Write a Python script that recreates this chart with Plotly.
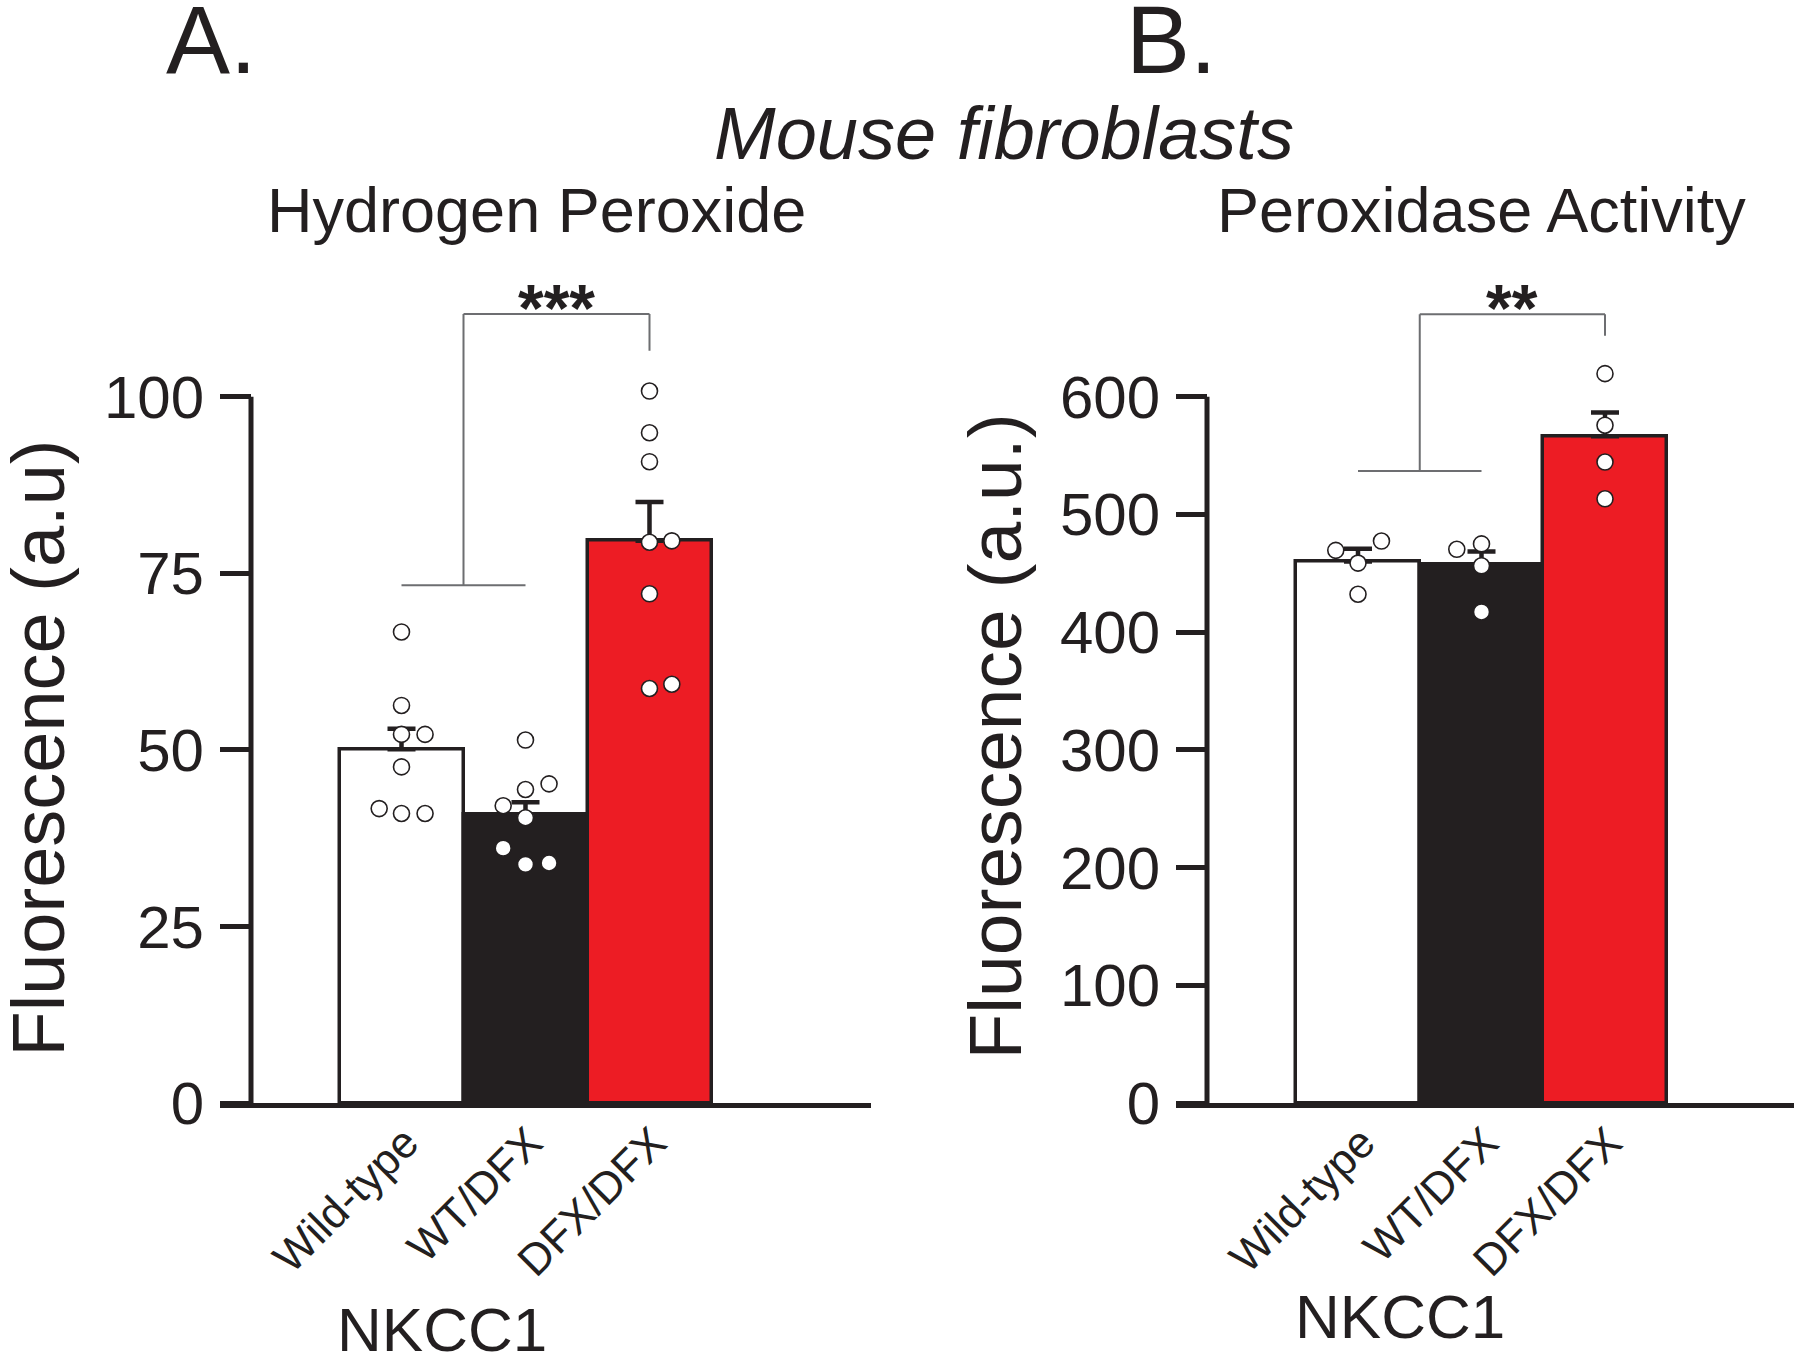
import plotly.graph_objects as go

# ---------------- data ----------------
categories = ["Wild-type", "WT/DFX", "DFX/DFX"]

h2o2_mean = [50.1, 40.9, 79.6]
h2o2_sem = [2.9, 1.7, 5.5]
h2o2_wt = [66.7, 56.3, 52.2, 52.2, 47.6, 41.7, 41.0, 41.0]
h2o2_wtdfx = [51.4, 45.2, 44.4, 42.1, 40.4, 36.1, 33.8, 34.0]
h2o2_dfx = [100.8, 94.9, 90.8, 79.4, 79.6, 72.1, 58.7, 59.3]
h2o2_jit_wt = [0, 0, 0, 0.19, 0, -0.18, 0, 0.19]
h2o2_jit_wtdfx = [0, 0.19, 0, -0.18, 0, -0.18, 0, 0.19]
h2o2_jit_dfx = [0, 0, 0, 0, 0.18, 0, 0, 0.18]

perox_mean = [460.1, 457.8, 566.4]
perox_sem = [10.8, 10.7, 20.1]
perox_wt = [477.4, 469.5, 458.7, 432.2]
perox_wtdfx = [475.0, 470.4, 456.4, 417.2]
perox_dfx = [619.6, 575.8, 544.5, 513.3]
perox_jit_wt = [0.19, -0.18, 0, 0]
perox_jit_wtdfx = [0, -0.2, 0, 0]
perox_jit_dfx = [0, 0, 0, 0]

# significance brackets: (low bar level, top level, right tick end, label)
sig_a = (73.3, 111.7, 106.5, "***")
sig_b = (537.0, 670.0, 651.7, "**")

yticks_a = [0, 25, 50, 75, 100]
yticks_b = [0, 100, 200, 300, 400, 500, 600]

# ---------------- styling / layout ----------------
W, H = 1800, 1360          # design grid (reference pixels)
FIG_H = 1393               # rendered height (the capture is taller than the design grid)
INK = "#231F20"
RED = "#ED1C24"
GREY = "#6D6E71"
FONT = "Arial, Liberation Sans, Helvetica, sans-serif"
bar_colors = ["#FFFFFF", INK, RED]

def px(x):
    return x / W

def py(y):
    return 1 - y / H

# pixel geometry of each panel
PANEL = {
    "A": dict(ax_left=220, yline=251, ax_right=871, center=525.5, bw=124.0,
              y0=1104, ytop_val=100, ytop_px=397, ymax=120),
    "B": dict(ax_left=1176, yline=1207, ax_right=1794, center=1481.5, bw=123.5,
              y0=1104, ytop_val=600, ytop_px=397, ymax=720),
}

def xval(p, pxv):
    return (pxv - p["center"]) / p["bw"] + 1

def ytop_px(p):
    scale = (p["y0"] - p["ytop_px"]) / p["ytop_val"]
    return p["y0"] - p["ymax"] * scale

fig = go.Figure()

def add_panel(key, xa, ya, means, sems, groups, jits, yticks, sig):
    p = PANEL[key]
    xref = "x" if xa == "xaxis" else "x2"
    yref = "y" if ya == "yaxis" else "y2"
    fig.add_trace(go.Bar(
        x=[0, 1, 2], y=means, width=1.0,
        marker=dict(color=bar_colors, line=dict(color=INK, width=3.5)),
        error_y=dict(type="data", array=sems, arrayminus=[0, 0, 0], symmetric=False,
                     thickness=4.5, width=14, color=INK),
        xaxis=xref, yaxis=yref, showlegend=False, hoverinfo="skip"))
    for i, (vals, jit) in enumerate(zip(groups, jits)):
        fig.add_trace(go.Scatter(
            x=[i + j for j in jit], y=vals, mode="markers",
            marker=dict(size=16, color="white", line=dict(color=INK, width=1.6)),
            xaxis=xref, yaxis=yref, showlegend=False, cliponaxis=False))
    # y axis line (0 -> top tick)
    xl = xval(p, p["yline"])
    fig.add_shape(type="line", xref=xref, yref=yref, x0=xl, x1=xl, y0=0, y1=yticks[-1],
                  line=dict(color=INK, width=5))
    low, top, rtick, label = sig
    for (x0, y0, x1, y1) in [(0, low, 1, low), (0.5, low, 0.5, top), (0.5, top, 2, top), (2, top, 2, rtick)]:
        fig.add_shape(type="line", xref=xref, yref=yref, x0=x0, y0=y0, x1=x1, y1=y1,
                      line=dict(color=GREY, width=2))
    fig.add_annotation(x=1.25, y=top, xref=xref, yref=yref, text="<b>" + label + "</b>",
                       showarrow=False, xanchor="center", yanchor="middle", yshift=6,
                       font=dict(family=FONT, size=66, color=INK))
    fig.update_layout(**{
        xa: dict(domain=[px(p["ax_left"]), px(p["ax_right"])],
                 range=[xval(p, p["ax_left"]), xval(p, p["ax_right"])],
                 anchor=yref, showline=True, linewidth=5, linecolor=INK,
                 tickmode="array", tickvals=[0, 1, 2], ticktext=categories,
                 tickangle=-45, ticks="", showgrid=False, zeroline=False,
                 ticklabelstandoff=-9, ticklabelshift=4,
                 tickfont=dict(family=FONT, size=44, color=INK), fixedrange=True),
        ya: dict(domain=[py(p["y0"]), py(ytop_px(p))], range=[0, p["ymax"]],
                 anchor="free", position=px(p["yline"]), showline=False,
                 tickmode="array", tickvals=yticks, ticks="outside", ticklen=31,
                 tickwidth=5, tickcolor=INK, showgrid=False, zeroline=False,
                 ticklabelstandoff=4,
                 tickfont=dict(family=FONT, size=60, color=INK), fixedrange=True),
    })

add_panel("A", "xaxis", "yaxis", h2o2_mean, h2o2_sem,
          [h2o2_wt, h2o2_wtdfx, h2o2_dfx], [h2o2_jit_wt, h2o2_jit_wtdfx, h2o2_jit_dfx],
          yticks_a, sig_a)
add_panel("B", "xaxis2", "yaxis2", perox_mean, perox_sem,
          [perox_wt, perox_wtdfx, perox_dfx], [perox_jit_wt, perox_jit_wtdfx, perox_jit_dfx],
          yticks_b, sig_b)

def label(text, x, y, size, angle=0, italic=False):
    fig.add_annotation(x=px(x), y=py(y), xref="paper", yref="paper", text=text,
                       showarrow=False, xanchor="center", yanchor="middle", textangle=angle,
                       font=dict(family=FONT, size=size, color=INK,
                                 style="italic" if italic else "normal"))

label("A.", 211, 40, 96)
label("B.", 1171, 40, 96)
label("Mouse fibroblasts", 1004, 134, 74, italic=True)
label("Hydrogen Peroxide", 536.5, 210.5, 63)
label("Peroxidase Activity", 1481, 210.5, 63)
label("Fluorescence (a.u)", 38, 749, 74, angle=-90)
label("Fluorescence (a.u.)", 995, 737, 75, angle=-90)
label("NKCC1", 442, 1330, 62)
label("NKCC1", 1400, 1317, 62)

fig.update_layout(width=W, height=FIG_H, margin=dict(l=0, r=0, t=0, b=0),
                  paper_bgcolor="white", plot_bgcolor="rgba(0,0,0,0)",
                  bargap=0, showlegend=False, font=dict(family=FONT, color=INK))

page_fix = (
    "var h=document.documentElement, b=document.body;"
    "h.style.margin='0'; h.style.padding='0'; h.style.overflow='hidden';"
    "b.style.margin='0'; b.style.padding='0'; b.style.overflow='hidden';"
)
fig.write_html("out.html", config={"displayModeBar": False, "responsive": False},
               post_script=page_fix)
